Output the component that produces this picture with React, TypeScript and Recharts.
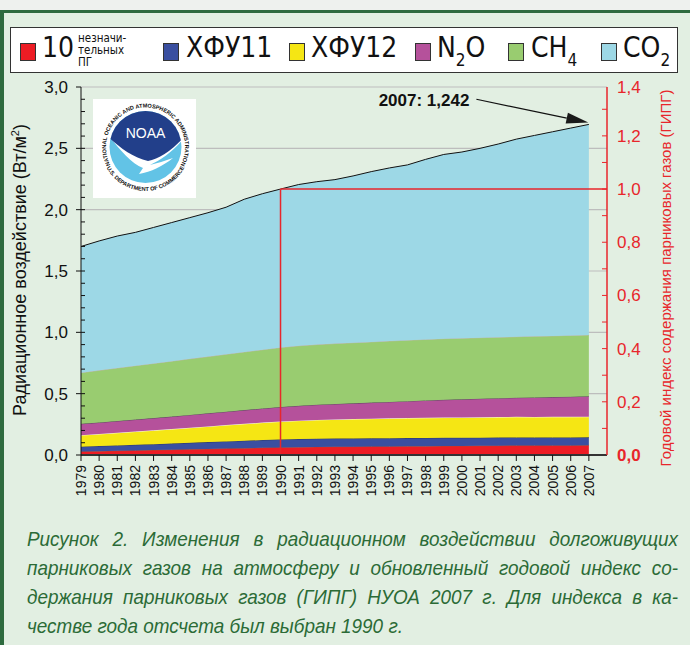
import React from 'react';
import { ComposedChart, Area, Line, XAxis, YAxis, CartesianGrid, ReferenceLine } from 'recharts';

// Radiative forcing, W/m2
const years = [1979, 1980, 1981, 1982, 1983, 1984, 1985, 1986, 1987, 1988, 1989, 1990, 1991, 1992, 1993, 1994, 1995, 1996, 1997, 1998, 1999, 2000, 2001, 2002, 2003, 2004, 2005, 2006, 2007];
const minorGases = [0.028, 0.031, 0.034, 0.037, 0.040, 0.043, 0.046, 0.049, 0.052, 0.055, 0.059, 0.062, 0.064, 0.066, 0.067, 0.068, 0.069, 0.070, 0.071, 0.072, 0.073, 0.074, 0.075, 0.076, 0.077, 0.077, 0.078, 0.078, 0.079];
const cfc11 = [0.040, 0.042, 0.044, 0.046, 0.048, 0.050, 0.053, 0.056, 0.059, 0.061, 0.063, 0.065, 0.066, 0.067, 0.067, 0.067, 0.067, 0.067, 0.067, 0.067, 0.067, 0.066, 0.066, 0.066, 0.066, 0.065, 0.065, 0.065, 0.065];
const cfc12 = [0.094, 0.098, 0.103, 0.108, 0.113, 0.118, 0.123, 0.128, 0.133, 0.138, 0.142, 0.146, 0.150, 0.153, 0.156, 0.158, 0.160, 0.162, 0.163, 0.164, 0.165, 0.166, 0.167, 0.167, 0.168, 0.168, 0.168, 0.168, 0.168];
const n2o = [0.092, 0.094, 0.096, 0.098, 0.100, 0.102, 0.105, 0.107, 0.109, 0.112, 0.115, 0.118, 0.121, 0.124, 0.126, 0.128, 0.131, 0.134, 0.138, 0.142, 0.145, 0.148, 0.151, 0.154, 0.156, 0.159, 0.161, 0.164, 0.167];
const ch4 = [0.417, 0.425, 0.432, 0.439, 0.445, 0.452, 0.457, 0.462, 0.468, 0.474, 0.479, 0.485, 0.489, 0.490, 0.492, 0.494, 0.495, 0.496, 0.497, 0.497, 0.498, 0.498, 0.497, 0.497, 0.497, 0.499, 0.499, 0.500, 0.499];
const co2 = [1.029, 1.055, 1.076, 1.087, 1.109, 1.130, 1.151, 1.173, 1.199, 1.245, 1.272, 1.292, 1.315, 1.328, 1.337, 1.360, 1.388, 1.411, 1.429, 1.468, 1.502, 1.518, 1.544, 1.575, 1.611, 1.637, 1.664, 1.690, 1.717];

const leftTicks = [0, 0.5, 1.0, 1.5, 2.0, 2.5, 3.0];
const leftMinorTicks = [0.1, 0.2, 0.3, 0.4, 0.5, 0.6, 0.7, 0.8, 0.9, 1.0, 1.1, 1.2, 1.3, 1.4, 1.5, 1.6, 1.7, 1.8, 1.9, 2.0, 2.1, 2.2, 2.3, 2.4, 2.5, 2.6, 2.7, 2.8, 2.9];
const rightTicks = [0, 0.2, 0.4, 0.6, 0.8, 1.0, 1.2];
const rightMinorTicks = [0.1, 0.2, 0.3, 0.4, 0.5, 0.6, 0.7, 0.8, 0.9, 1.0, 1.1, 1.2, 1.3];
const baseYear = 1990;
const lastIndexLabel = '2007: 1,242';

const legendColors = ['#ed1c24', '#3a4fa0', '#f5e614', '#b5519b', '#99cc70', '#9dd8e6'];

const data = years.map((year, i) => ({
  year,
  minor: minorGases[i],
  cfc11: cfc11[i],
  cfc12: cfc12[i],
  n2o: n2o[i],
  ch4: ch4[i],
  co2: co2[i],
}));

const i1990 = years.indexOf(baseYear);
const total1990 = minorGases[i1990] + cfc11[i1990] + cfc12[i1990] + n2o[i1990] + ch4[i1990] + co2[i1990];
const leftMax = 3;
const rightMax = leftMax / total1990;

const SANS = "'Liberation Sans', Arial, sans-serif";
const COND = "'DejaVu Sans Condensed', 'Liberation Sans Narrow', sans-serif";
const RED = '#e8262b';
const CAPTION = '#2b6b36';

const fmt = (v: number) => v.toFixed(1).replace('.', ',');

const XTick = ({ x, y, payload }: any) => (
  <text
    x={x + 5}
    y={y + 2}
    transform={`rotate(-90 ${x + 5} ${y + 2})`}
    textAnchor="end"
    fontSize={14}
    fontFamily={SANS}
    fill="#111"
  >
    {payload.value}
  </text>
);

const LeftTick = ({ x, y, payload }: any) => (
  <text x={x} y={y} dy={6} textAnchor="end" fontSize={17} fontFamily={SANS} fill="#111">
    {fmt(payload.value)}
  </text>
);

const RightTick = ({ x, y, payload }: any) => {
  const v = payload.value;
  const label = v > 1.3 ? '1,4' : fmt(v);
  return (
    <text x={x} y={y} dy={6} textAnchor="start" fontSize={17} fontFamily={SANS} fill={RED} fontWeight={v === 0 ? 'bold' : 'normal'}>
      {label}
    </text>
  );
};

const NoLabel = () => <g />;

const ArrowShape = (props: any) => {
  const { x1, y1, x2, y2 } = props;
  const ang = Math.atan2(y2 - y1, x2 - x1);
  const len = 22;
  const half = 5.5;
  const bx = x2 - len * Math.cos(ang);
  const by = y2 - len * Math.sin(ang);
  const px = -Math.sin(ang) * half;
  const py = Math.cos(ang) * half;
  return (
    <g>
      <line x1={x1} y1={y1} x2={bx} y2={by} stroke="#111" strokeWidth={1.2} />
      <polygon points={`${x2},${y2} ${bx + px},${by + py} ${bx - px},${by - py}`} fill="#1a1a1a" />
      <text x={x1 - 7} y={y1 + 7} textAnchor="end" fontSize={17} fontWeight="bold" fontFamily={SANS} fill="#111">
        {lastIndexLabel}
      </text>
    </g>
  );
};

function NoaaLogo() {
  const cx = 52.5;
  const cy = 48;
  const r = 36;
  const R = 39.5;
  const R2 = 44;
  const a = (25 * Math.PI) / 180;
  const b = (12 * Math.PI) / 180;
  const topArc = `M ${cx - R * Math.cos(a)} ${cy + R * Math.sin(a)} A ${R} ${R} 0 1 1 ${cx + R * Math.cos(a)} ${cy + R * Math.sin(a)}`;
  const botArc = `M ${cx - R2 * Math.cos(b)} ${cy + R2 * Math.sin(b)} A ${R2} ${R2} 0 0 0 ${cx + R2 * Math.cos(b)} ${cy + R2 * Math.sin(b)}`;
  return (
    <svg width={103} height={99} style={{ position: 'absolute', left: 93, top: 99, background: '#fff' }}>
      <defs>
        <clipPath id="disk">
          <circle cx={cx} cy={cy} r={r} />
        </clipPath>
        <path id="topArc" d={topArc} />
        <path id="botArc" d={botArc} />
      </defs>
      <g clipPath="url(#disk)">
        <rect x={0} y={0} width={103} height={99} fill="#62c3e6" />
        <path d="M14,34 C26,50 38,64 50,69 L46,75 C58,73 70,67 80,59 C72,62 64,64 57,66 C68,61 80,53 92,38 L92,34 Z" fill="#ffffff" />
        <path d="M14,37 C26,48 40,59 55,62 C66,60 80,51 92,37 L92,0 L14,0 Z" fill="#223f8a" />
      </g>
      <text x={cx} y={39} textAnchor="middle" fontSize={14} fontFamily={SANS} fill="#fff">NOAA</text>
      <text fontSize={5.6} fontWeight="bold" fontFamily={SANS} fill="#111">
        <textPath href="#topArc" startOffset="50%" textAnchor="middle">NATIONAL OCEANIC AND ATMOSPHERIC ADMINISTRATION</textPath>
      </text>
      <text fontSize={5.6} fontWeight="bold" fontFamily={SANS} fill="#111">
        <textPath href="#botArc" startOffset="50%" textAnchor="middle">U.S. DEPARTMENT OF COMMERCE</textPath>
      </text>
    </svg>
  );
}

function Swatch({ left, color }: { left: number; color: string }) {
  return (
    <div style={{ position: 'absolute', left, top: 43, width: 14, height: 16, background: color, border: '1px solid #333' }} />
  );
}

const bigText: React.CSSProperties = { position: 'absolute', top: 33, fontSize: 28, lineHeight: '30px', fontFamily: COND, color: '#111', whiteSpace: 'nowrap' };
const sub: React.CSSProperties = { fontSize: 17, position: 'relative', top: 9 };
const smallLine: React.CSSProperties = { height: 12, fontSize: 11.5, lineHeight: '12px', whiteSpace: 'nowrap' };

function LegendBox() {
  return (
    <div style={{ position: 'absolute', left: 10, top: 27, width: 666, height: 44, background: '#fff', border: '1px solid #333' }}>
      <div style={{ position: 'absolute', left: -11, top: -28 }}>
        <Swatch left={20} color={legendColors[0]} />
        <div style={{ ...bigText, left: 42 }}>10</div>
        <div style={{ position: 'absolute', left: 78, top: 32, fontFamily: COND, color: '#111' }}>
          <div style={smallLine}>незначи-</div>
          <div style={smallLine}>тельных</div>
          <div style={smallLine}>ПГ</div>
        </div>
        <Swatch left={163} color={legendColors[1]} />
        <div style={{ ...bigText, left: 186 }}>ХФУ11</div>
        <Swatch left={289} color={legendColors[2]} />
        <div style={{ ...bigText, left: 311 }}>ХФУ12</div>
        <Swatch left={415} color={legendColors[3]} />
        <div style={{ ...bigText, left: 437 }}>N<span style={sub}>2</span>O</div>
        <Swatch left={508} color={legendColors[4]} />
        <div style={{ ...bigText, left: 531 }}>CH<span style={sub}>4</span></div>
        <Swatch left={601} color={legendColors[5]} />
        <div style={{ ...bigText, left: 623 }}>CO<span style={sub}>2</span></div>
      </div>
    </div>
  );
}

const captionLines = [
  'Рисунок 2. Изменения в радиационном воздействии долгоживущих',
  'парниковых газов на атмосферу и обновленный годовой индекс со-',
  'держания парниковых газов (ГИПГ) НУОА 2007 г. Для индекса в ка-',
  'честве года отсчета был выбран 1990 г.',
];
const capScale = 0.9;

export default function App() {
  return (
    <div style={{ position: 'absolute', left: 0, top: 0, width: 690, height: 645, background: '#eef1ee', overflow: 'hidden' }}>
      <div style={{ position: 'absolute', left: 0, top: 10, width: 686, height: 632, background: '#e2efe2', borderTop: '3px solid #2e6b3f', borderLeft: '4px solid #2e6b3f' }} />

      <LegendBox />

      <div style={{ position: 'absolute', left: 0, top: 60 }}>
        <ComposedChart width={690} height={460} data={data} margin={{ top: 27, right: 23, left: 31, bottom: 15 }}>
          <CartesianGrid yAxisId="left" vertical={false} stroke="#bdbdbd" strokeWidth={1.2} />
          <XAxis
            dataKey="year"
            type="number"
            domain={[1979, 2008]}
            ticks={years}
            interval={0}
            height={50}
            tick={XTick}
            tickSize={6}
            tickLine={{ stroke: '#111' }}
            axisLine={{ stroke: '#333', strokeWidth: 2 }}
          />
          <XAxis xAxisId="top" orientation="top" dataKey="year" type="number" domain={[1979, 2008]} height={0} tick={false} tickLine={false} axisLine={{ stroke: '#111', strokeWidth: 1.5 }} />
          <YAxis
            yAxisId="left"
            domain={[0, leftMax]}
            ticks={leftTicks}
            interval={0}
            width={50}
            tickSize={5}
            tickMargin={8}
            tick={LeftTick}
            tickLine={{ stroke: '#111' }}
            axisLine={{ stroke: '#111' }}
          />
          <YAxis yAxisId="leftMinor" mirror domain={[0, leftMax]} allowDataOverflow ticks={leftMinorTicks} interval={0} tick={NoLabel} tickSize={4} tickLine={{ stroke: '#111' }} axisLine={false} width={1} />
          <YAxis
            yAxisId="right"
            orientation="right"
            domain={[0, rightMax]}
            allowDataOverflow
            ticks={[...rightTicks, rightMax]}
            interval={0}
            width={60}
            tickSize={0}
            tickMargin={10}
            tick={RightTick}
            tickLine={false}
            axisLine={{ stroke: RED, strokeWidth: 1.5 }}
          />
          <YAxis yAxisId="rightMinor" orientation="right" mirror domain={[0, rightMax]} allowDataOverflow ticks={rightMinorTicks} interval={0} tick={NoLabel} tickSize={5} tickLine={{ stroke: RED }} axisLine={false} width={1} />

          <Area yAxisId="left" type="linear" dataKey="minor" stackId="rf" fill="#ed1c24" fillOpacity={1} stroke="#b5452a" strokeWidth={1} dot={false} activeDot={false} isAnimationActive={false} />
          <Area yAxisId="left" type="linear" dataKey="cfc11" stackId="rf" fill="#3a4fa0" fillOpacity={1} stroke="#2d3561" strokeWidth={1} dot={false} activeDot={false} isAnimationActive={false} />
          <Area yAxisId="left" type="linear" dataKey="cfc12" stackId="rf" fill="#f5e614" fillOpacity={1} stroke="#f4f4e8" strokeWidth={1} dot={false} activeDot={false} isAnimationActive={false} />
          <Area yAxisId="left" type="linear" dataKey="n2o" stackId="rf" fill="#b5519b" fillOpacity={1} stroke="#5a4a5a" strokeWidth={1} dot={false} activeDot={false} isAnimationActive={false} />
          <Area yAxisId="left" type="linear" dataKey="ch4" stackId="rf" fill="#99cc70" fillOpacity={1} stroke="#b8b8a8" strokeWidth={1} dot={false} activeDot={false} isAnimationActive={false} />
          <Area yAxisId="left" type="linear" dataKey="co2" stackId="rf" fill="#9dd8e6" fillOpacity={1} stroke="#111" strokeWidth={1} dot={false} activeDot={false} isAnimationActive={false} />

          {/* invisible series so the tick-only axes get data attached */}
          <Line yAxisId="leftMinor" dataKey="minor" stroke="none" dot={false} activeDot={false} legendType="none" isAnimationActive={false} />
          <Line yAxisId="right" dataKey="minor" stroke="none" dot={false} activeDot={false} legendType="none" isAnimationActive={false} />
          <Line yAxisId="rightMinor" dataKey="minor" stroke="none" dot={false} activeDot={false} legendType="none" isAnimationActive={false} />

          <ReferenceLine yAxisId="right" segment={[{ x: baseYear, y: 0 }, { x: baseYear, y: 1 }]} stroke={RED} strokeWidth={1.5} />
          <ReferenceLine yAxisId="right" segment={[{ x: baseYear, y: 1 }, { x: 2008, y: 1 }]} stroke={RED} strokeWidth={1.5} />
          <ReferenceLine yAxisId="left" segment={[{ x: 2000.8, y: 2.9 }, { x: 2006.97, y: 2.71 }]} shape={ArrowShape} ifOverflow="visible" />
        </ComposedChart>
      </div>

      <NoaaLogo />

      <div style={{ position: 'absolute', left: 20, top: 270, transform: 'translate(-50%, -50%) rotate(-90deg)', fontSize: 18, fontFamily: SANS, color: '#111', whiteSpace: 'nowrap' }}>
        Радиационное воздействие (Вт/м<sup style={{ fontSize: 11 }}>2</sup>)
      </div>
      <div style={{ position: 'absolute', left: 665, top: 278, transform: 'translate(-50%, -50%) rotate(-90deg)', fontSize: 15, fontFamily: SANS, color: RED, whiteSpace: 'nowrap' }}>
        Годовой индекс содержания парниковых газов (ГИПГ)
      </div>

      <div style={{ position: 'absolute', left: 27, top: 524, width: 651, fontSize: 21, lineHeight: '29px', fontStyle: 'italic', fontFamily: SANS, color: CAPTION }}>
        {captionLines.map((line, i) => (
          <div
            key={i}
            style={{
              width: 651 / capScale,
              transform: `scaleX(${capScale})`,
              transformOrigin: 'left center',
              whiteSpace: 'nowrap',
              textAlign: 'justify',
              textAlignLast: i < captionLines.length - 1 ? 'justify' : 'left',
            }}
          >
            {line}
          </div>
        ))}
      </div>
    </div>
  );
}
